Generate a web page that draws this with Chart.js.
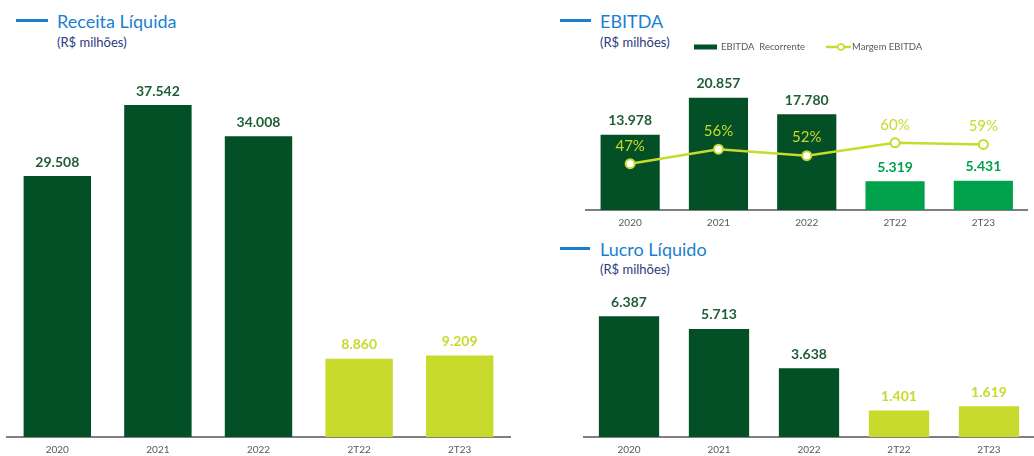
<!DOCTYPE html>
<html>
<head>
<meta charset="utf-8">
<script src="https://cdn.jsdelivr.net/npm/chart.js@4.4.0/dist/chart.umd.min.js"></script>
<style>
    body { margin: 0; background: #fff; font-family: Lato, sans-serif; }
    #pagina { position: relative; width: 1034px; height: 456px; overflow: hidden; }
    .bloco { position: absolute; }
    .traco { position: absolute; height: 3px; background: #1b7fd1; }
    .titulo { position: absolute; color: #1b7fd1; font-size: 18px; line-height: 22px; white-space: nowrap; }
    .subtitulo { position: absolute; color: #2b3a7e; font-size: 13px; line-height: 16px; white-space: nowrap; }
</style>
</head>
<body>
<div id="pagina">
    <div class="traco" style="left:16px; top:19px; width:32px"></div>
    <div class="titulo" style="left:57px; top:10px">Receita Líquida</div>
    <div class="subtitulo" style="left:57px; top:34px">(R$ milhões)</div>

    <div class="traco" style="left:560px; top:19px; width:31px"></div>
    <div class="titulo" style="left:600px; top:10px">EBITDA</div>
    <div class="subtitulo" style="left:600px; top:34px">(R$ milhões)</div>

    <div class="traco" style="left:560px; top:247px; width:30px"></div>
    <div class="titulo" style="left:600px; top:238px">Lucro Líquido</div>
    <div class="subtitulo" style="left:600px; top:261px">(R$ milhões)</div>

    <canvas id="receita-chart" class="bloco" style="left:0; top:50px" width="520" height="414"></canvas>
    <canvas id="ebitda-chart" class="bloco" style="left:570px; top:30px" width="464" height="207"></canvas>
    <canvas id="lucro-chart" class="bloco" style="left:570px; top:280px" width="464" height="184"></canvas>
</div>
<script>
// dados
const categorias = ['2020', '2021', '2022', '2T22', '2T23'];
const receitaLiquida = [29508, 37542, 34008, 8860, 9209];
const ebitdaRecorrente = [13978, 20857, 17780, 5319, 5431];
const margemEbitda = [47, 56, 52, 60, 59];
const lucroLiquido = [6387, 5713, 3638, 1401, 1619];

const VERDE_ESCURO = '#034f26';
const VERDE_TEXTO = '#1f5e36';
const VERDE_CLARO = '#00a14b';
const AMARELO = '#c8da2b';
const CINZA = '#595959';

Chart.defaults.font.family = 'Lato, sans-serif';
Chart.defaults.animation = false;

function formatarMil(v) {
    return String(v).replace(/\B(?=(\d{3})+(?!\d))/g, '.');
}

// rótulos de valor acima das barras / pontos
const rotulosPlugin = {
    id: 'rotulos',
    afterDatasetsDraw(chart) {
        const ctx = chart.ctx;
        chart.data.datasets.forEach((ds, i) => {
            if (!ds.rotulo) return;
            const meta = chart.getDatasetMeta(i);
            meta.data.forEach((el, j) => {
                ctx.save();
                ctx.font = ds.rotulo.fonte;
                ctx.fillStyle = Array.isArray(ds.rotulo.cor) ? ds.rotulo.cor[j] : ds.rotulo.cor;
                ctx.textAlign = 'center';
                ctx.textBaseline = 'middle';
                ctx.fillText(ds.rotulo.formato(ds.data[j]), el.x, el.y - ds.rotulo.distancia);
                ctx.restore();
            });
        });
    }
};

// legenda do EBITDA (barra + linha com marcador)
const legendaEbitda = {
    id: 'legendaEbitda',
    afterDraw(chart) {
        const ctx = chart.ctx;
        const y = 17;
        ctx.save();
        ctx.fillStyle = VERDE_ESCURO;
        ctx.fillRect(124, y - 2.5, 23, 5);
        ctx.font = '9.5px Lato, sans-serif';
        ctx.fillStyle = CINZA;
        ctx.textBaseline = 'middle';
        ctx.fillText('EBITDA  Recorrente', 151, y);
        ctx.strokeStyle = AMARELO;
        ctx.lineWidth = 2.5;
        ctx.beginPath();
        ctx.moveTo(256, y);
        ctx.lineTo(281, y);
        ctx.stroke();
        ctx.beginPath();
        ctx.arc(271, y, 3, 0, Math.PI * 2);
        ctx.fillStyle = '#fff';
        ctx.fill();
        ctx.lineWidth = 1.5;
        ctx.stroke();
        ctx.fillStyle = CINZA;
        ctx.fillText('Margem EBITDA', 282, y);
        ctx.restore();
    }
};

function eixoX() {
    return {
        grid: { display: false, drawTicks: false },
        border: { display: true, color: '#7f7f7f', width: 2 },
        ticks: { color: CINZA, font: { size: 10 }, padding: 7 }
    };
}

function opcoesBase(padding, yMax) {
    return {
        responsive: false,
        layout: { padding: padding },
        plugins: { legend: { display: false }, tooltip: { enabled: false } },
        scales: {
            x: eixoX(),
            y: { display: false, min: 0, max: yMax }
        }
    };
}

const fonteValor = 'bold 14px Lato, sans-serif';

new Chart(document.getElementById('receita-chart'), {
    type: 'bar',
    plugins: [rotulosPlugin],
    data: {
        labels: categorias,
        datasets: [{
            data: receitaLiquida,
            backgroundColor: [VERDE_ESCURO, VERDE_ESCURO, VERDE_ESCURO, AMARELO, AMARELO],
            categoryPercentage: 1,
            barPercentage: 0.67,
            rotulo: {
                fonte: fonteValor,
                cor: [VERDE_TEXTO, VERDE_TEXTO, VERDE_TEXTO, AMARELO, AMARELO],
                distancia: 14,
                formato: formatarMil
            }
        }]
    },
    options: opcoesBase({ left: 7, right: 10, top: 20, bottom: 1 }, 41500)
});

const opcoesEbitda = opcoesBase({ left: 16, right: 5, top: 30, bottom: 1 }, 27850);
opcoesEbitda.scales.y1 = { display: false, min: 18.25, max: 111.4 };

new Chart(document.getElementById('ebitda-chart'), {
    type: 'bar',
    plugins: [rotulosPlugin, legendaEbitda],
    data: {
        labels: categorias,
        datasets: [{
            type: 'line',
            label: 'Margem EBITDA',
            data: margemEbitda,
            yAxisID: 'y1',
            order: 0,
            borderColor: AMARELO,
            borderWidth: 2.5,
            pointRadius: 4.5,
            pointBorderWidth: 2,
            pointBackgroundColor: '#fff',
            pointBorderColor: AMARELO,
            tension: 0,
            rotulo: {
                fonte: '15px Lato, sans-serif',
                cor: AMARELO,
                distancia: 18,
                formato: v => v + '%'
            }
        }, {
            label: 'EBITDA  Recorrente',
            data: ebitdaRecorrente,
            yAxisID: 'y',
            order: 1,
            backgroundColor: [VERDE_ESCURO, VERDE_ESCURO, VERDE_ESCURO, VERDE_CLARO, VERDE_CLARO],
            categoryPercentage: 1,
            barPercentage: 0.67,
            rotulo: {
                fonte: fonteValor,
                cor: [VERDE_TEXTO, VERDE_TEXTO, VERDE_TEXTO, VERDE_CLARO, VERDE_CLARO],
                distancia: 14,
                formato: formatarMil
            }
        }]
    },
    options: opcoesEbitda
});

new Chart(document.getElementById('lucro-chart'), {
    type: 'bar',
    plugins: [rotulosPlugin],
    data: {
        labels: categorias,
        datasets: [{
            data: lucroLiquido,
            backgroundColor: [VERDE_ESCURO, VERDE_ESCURO, VERDE_ESCURO, AMARELO, AMARELO],
            categoryPercentage: 1,
            barPercentage: 0.67,
            rotulo: {
                fonte: fonteValor,
                cor: [VERDE_TEXTO, VERDE_TEXTO, VERDE_TEXTO, AMARELO, AMARELO],
                distancia: 14,
                formato: formatarMil
            }
        }]
    },
    options: opcoesBase({ left: 14, right: 0, top: 20, bottom: 1 }, 7240)
});
</script>
</body>
</html>
